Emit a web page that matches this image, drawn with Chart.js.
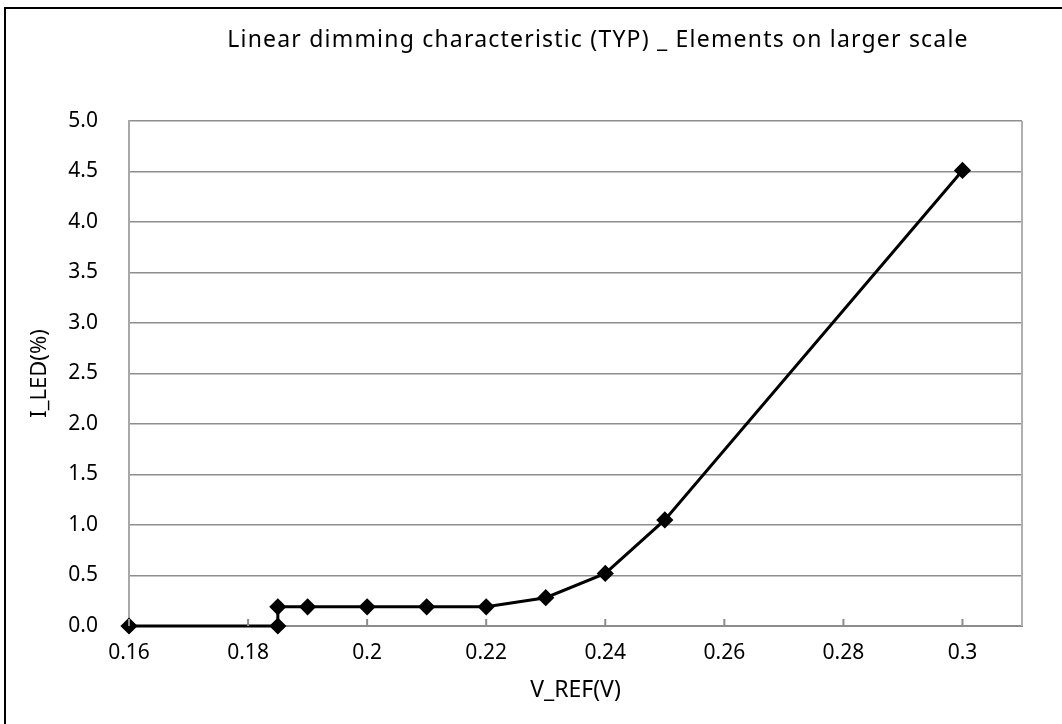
<!DOCTYPE html>
<html>
<head>
<meta charset="utf-8">
<script src="https://cdn.jsdelivr.net/npm/chart.js@4/dist/chart.umd.min.js"></script>
<style>
  html, body { margin: 0; padding: 0; background: #fff; overflow: hidden; }
  #wrap { position: relative; width: 1062px; height: 724px; }
  #frame { position: absolute; left: 4px; top: 7px; width: 1200px; height: 900px;
           border-left: 2px solid #000; border-top: 2px solid #000; pointer-events: none; }
</style>
</head>
<body>
<div id="wrap">
  <canvas id="chart" width="1062" height="724"></canvas>
  <div id="frame"></div>
</div>
<script>
const titleText = "Linear dimming characteristic (TYP) _ Elements on larger scale";
const xTitle = "V_REF(V)";
const yTitle = "I_LED(%)";

const vref = [0.16, 0.185, 0.185, 0.19, 0.2, 0.21, 0.22, 0.23, 0.24, 0.25, 0.3];
const iled = [0, 0, 0.19, 0.19, 0.19, 0.19, 0.19, 0.28, 0.52, 1.05, 4.51];

const xTicks = [0.16, 0.18, 0.2, 0.22, 0.24, 0.26, 0.28, 0.3];
const yTicks = [0, 0.5, 1, 1.5, 2, 2.5, 3, 3.5, 4, 4.5, 5];

const fontFamily = "'Noto Sans', 'DejaVu Sans', sans-serif";

// title, right edge of plot and the inward tick marks on the x axis
const framePlugin = {
  id: "frame",
  afterDraw(chart) {
    const { ctx, chartArea } = chart;
    const xs = chart.scales.x;
    ctx.save();
    ctx.strokeStyle = "#b0b0b0";
    ctx.lineWidth = 2;
    ctx.beginPath();
    ctx.moveTo(chartArea.right, chartArea.top);
    ctx.lineTo(chartArea.right, chartArea.bottom);
    ctx.stroke();

    ctx.strokeStyle = "#8c8c8c";
    ctx.lineWidth = 2;
    xTicks.forEach((v) => {
      const px = xs.getPixelForValue(v);
      ctx.beginPath();
      ctx.moveTo(px, chartArea.bottom);
      ctx.lineTo(px, chartArea.bottom - 7);
      ctx.stroke();
    });

    ctx.fillStyle = "#000";
    ctx.font = "23px " + fontFamily;
    ctx.letterSpacing = "1.2px";
    ctx.textAlign = "center";
    ctx.textBaseline = "middle";
    ctx.fillText(titleText, 598, 40);
    ctx.restore();
  },
};

new Chart(document.getElementById("chart"), {
  type: "scatter",
  data: {
    datasets: [
      {
        data: vref.map((x, i) => ({ x, y: iled[i] })),
        showLine: true,
        borderColor: "#000",
        borderWidth: 3,
        backgroundColor: "#000",
        pointStyle: "rectRot",
        pointRadius: 6.5,
        pointHoverRadius: 6.5,
        tension: 0,
        clip: false,
      },
    ],
  },
  options: {
    responsive: false,
    animation: false,
    layout: { padding: { left: 0, right: 40, top: 121, bottom: 0 } },
    plugins: {
      legend: { display: false },
      title: { display: false },
      tooltip: { enabled: false },
    },
    scales: {
      x: {
        type: "linear",
        min: 0.16,
        max: 0.31,
        afterBuildTicks: (scale) => {
          scale.ticks = xTicks.map((v) => ({ value: v }));
        },
        afterFit: (scale) => {
          scale.height = 98;
        },
        ticks: {
          color: "#000",
          font: { family: fontFamily, size: 21 },
          padding: 14,
          maxRotation: 0,
          callback: (v) => String(Math.round(v * 100) / 100),
        },
        grid: { drawOnChartArea: false, drawTicks: false },
        border: { color: "#8c8c8c", width: 2 },
        title: {
          display: true,
          text: xTitle,
          color: "#000",
          font: { family: fontFamily, size: 23 },
          padding: { top: 0, bottom: 20 },
        },
      },
      y: {
        type: "linear",
        min: 0,
        max: 5,
        afterBuildTicks: (scale) => {
          scale.ticks = yTicks.map((v) => ({ value: v }));
        },
        afterFit: (scale) => {
          scale.width = 129;
        },
        ticks: {
          color: "#000",
          font: { family: fontFamily, size: 21 },
          padding: 31,
          callback: (v) => v.toFixed(1),
        },
        grid: { color: "#8e8e8e", lineWidth: 1.5, drawTicks: false },
        border: { color: "#a8a8a8", width: 2 },
        title: {
          display: true,
          text: yTitle,
          color: "#000",
          font: { family: fontFamily, size: 22 },
          padding: { top: 27, bottom: 0 },
        },
      },
    },
  },
  plugins: [framePlugin],
});
</script>
</body>
</html>
